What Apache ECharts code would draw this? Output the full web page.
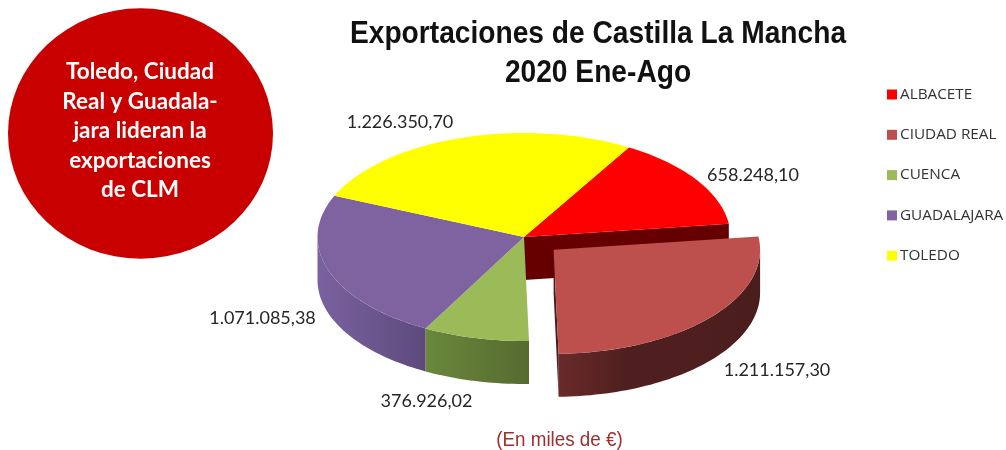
<!DOCTYPE html>
<html>
<head>
<meta charset="utf-8">
<style>html,body{margin:0;padding:0;background:#fff}#c{width:1006px;height:450px}</style>
<script src="https://cdn.jsdelivr.net/npm/echarts@6/dist/echarts.min.js"></script>
</head>
<body>
<div id="c"></div>
<script>
var categories = ['ALBACETE', 'CIUDAD REAL', 'CUENCA', 'GUADALAJARA', 'TOLEDO'];
var exportValues = [658248.10, 1211157.30, 376926.02, 1071085.38, 1226350.70];
var valueLabels = ['658.248,10', '1.211.157,30', '376.926,02', '1.071.085,38', '1.226.350,70'];
var explodedCategories = ['CIUDAD REAL'];
var palette = ['#ff0000', '#bd4f4c', '#9bbb59', '#7f63a1', '#ffff00'];

var layout = {
  cx: 524, cy: 237, rx: 206.5, ry: 104, depth: 43, startDeg: 30.5, explode: 39,
  walls: {
    'ALBACETE': ['#660000', '#660000'],
    'CIUDAD REAL': ['#6a2a2a', '#4f1f1f', '#4f1f1f', '#4a1d1d'],
    'CUENCA': ['#6a883c', '#566b30'],
    'GUADALAJARA': ['#7a62a0', '#5d4a7c'],
    'TOLEDO': ['#99991a', '#99991a']
  },
  labels: {
    'ALBACETE': [753, 175], 'CIUDAD REAL': [777, 370], 'CUENCA': [426.5, 401],
    'GUADALAJARA': [262.5, 318], 'TOLEDO': [400, 122]
  }
};
var total = exportValues.reduce(function (a, b) { return a + b; }, 0);

function pt(c, deg, dy) {
  var a = deg * Math.PI / 180;
  return [c[0] + layout.rx * Math.sin(a), c[1] - layout.ry * Math.cos(a) + (dy || 0)];
}
function arcPts(c, from, to, dy) {
  var out = [], n = Math.max(2, Math.ceil(Math.abs(to - from) / 1.5));
  for (var i = 0; i <= n; i++) out.push(pt(c, from + (to - from) * i / n, dy));
  return out;
}
function grad(cols) {
  return { type: 'linear', x: 0, y: 0, x2: 1, y2: 0, colorStops: cols.map(function (col, i) { return { offset: i / (cols.length - 1), color: col }; }) };
}
function renderSlice(params, api) {
  var idx = params.seriesIndex, name = categories[idx], before = 0;
  for (var i = 0; i < idx; i++) before += exportValues[i];
  var from = layout.startDeg + before / total * 360;
  var to = from + api.value(0) / total * 360;
  var mid = (from + to) / 2, m = mid * Math.PI / 180;
  var off = explodedCategories.indexOf(name) >= 0 ? layout.explode : 0;
  var c = [layout.cx + off * Math.sin(m), layout.cy - off * Math.cos(m) * layout.ry / layout.rx];
  var bump = off ? 20 : 0, kids = [], d = layout.depth, wall = layout.walls[name];

  // outer wall: only the front half of the rim is visible
  var wf = Math.max(from, 90), wt = Math.min(to, 270);
  if (wt > wf) {
    kids.push({ type: 'polygon', z2: 2 + bump, shape: { points: arcPts(c, wf, wt, 0).concat(arcPts(c, wt, wf, d)) }, style: { fill: grad(wall) } });
  }
  // cut faces that turn toward the viewer
  if (name === 'ALBACETE') {
    kids.push({ type: 'polygon', z2: 3, shape: { points: [c, pt(c, to), pt(c, to, d), [c[0], c[1] + d]] }, style: { fill: wall[0] } });
  }
  if (off) {
    kids.push({ type: 'polygon', z2: 3 + bump, shape: { points: [c, pt(c, to), pt(c, to, d), [c[0], c[1] + d]] }, style: { fill: wall[wall.length - 1] } });
  }
  // top face
  kids.push({ type: 'polygon', z2: 5 + bump, shape: { points: [c].concat(arcPts(c, from, to, 0)) }, style: { fill: palette[idx] } });
  // value label
  kids.push({ type: 'text', z2: 30, style: {
    text: valueLabels[idx], x: layout.labels[name][0], y: layout.labels[name][1],
    align: 'center', verticalAlign: 'middle', fill: '#262626', fontSize: 18, fontFamily: 'Lato'
  } });
  return { type: 'group', children: kids };
}

var chart = echarts.init(document.getElementById('c'), null, { renderer: 'canvas' });
chart.setOption({
  animation: false,
  backgroundColor: '#ffffff',
  color: palette,
  legend: {
    orient: 'vertical', left: 887, top: 87, padding: 0, itemWidth: 10, itemHeight: 10, itemGap: 25.3, icon: 'rect',
    selectedMode: false, data: categories,
    textStyle: { fontFamily: 'Open Sans', fontSize: 15.3, lineHeight: 15, color: '#333333', padding: [0, 0, 0, -2] }
  },
  graphic: [
    { type: 'text', x: 598, y: 34, scaleX: 0.88, style: {
      text: 'Exportaciones de Castilla La Mancha', align: 'center', verticalAlign: 'middle', fill: '#111111',
      fontFamily: 'Liberation Sans', fontWeight: 'bold', fontSize: 32
    } },
    { type: 'text', x: 598, y: 73, scaleX: 0.88, style: {
      text: '2020 Ene-Ago', align: 'center', verticalAlign: 'middle', fill: '#111111',
      fontFamily: 'Liberation Sans', fontWeight: 'bold', fontSize: 32
    } },
    { type: 'circle', x: 140.5, y: 133.5, scaleY: 0.945, shape: { cx: 0, cy: 0, r: 132.5 }, style: { fill: '#c80000' } },
    { type: 'text', x: 140, y: 131, style: {
      text: 'Toledo, Ciudad\nReal y Guadala-\njara lideran la\nexportaciones\nde CLM',
      align: 'center', verticalAlign: 'middle', fill: '#ffffff', fontFamily: 'Lato', fontWeight: 'bold', fontSize: 22.5, lineHeight: 29.5
    } },
    { type: 'text', x: 559.5, y: 440, scaleX: 0.94, style: {
      text: '(En miles de €)', align: 'center', verticalAlign: 'middle', fill: '#9c2f2f', fontFamily: 'Liberation Sans', fontSize: 20
    } }
  ],
  series: categories.map(function (name, i) {
    return { type: 'custom', name: name, coordinateSystem: 'none', silent: true, renderItem: renderSlice, data: [[exportValues[i]]], itemStyle: { color: palette[i] } };
  })
});
</script>
</body>
</html>
